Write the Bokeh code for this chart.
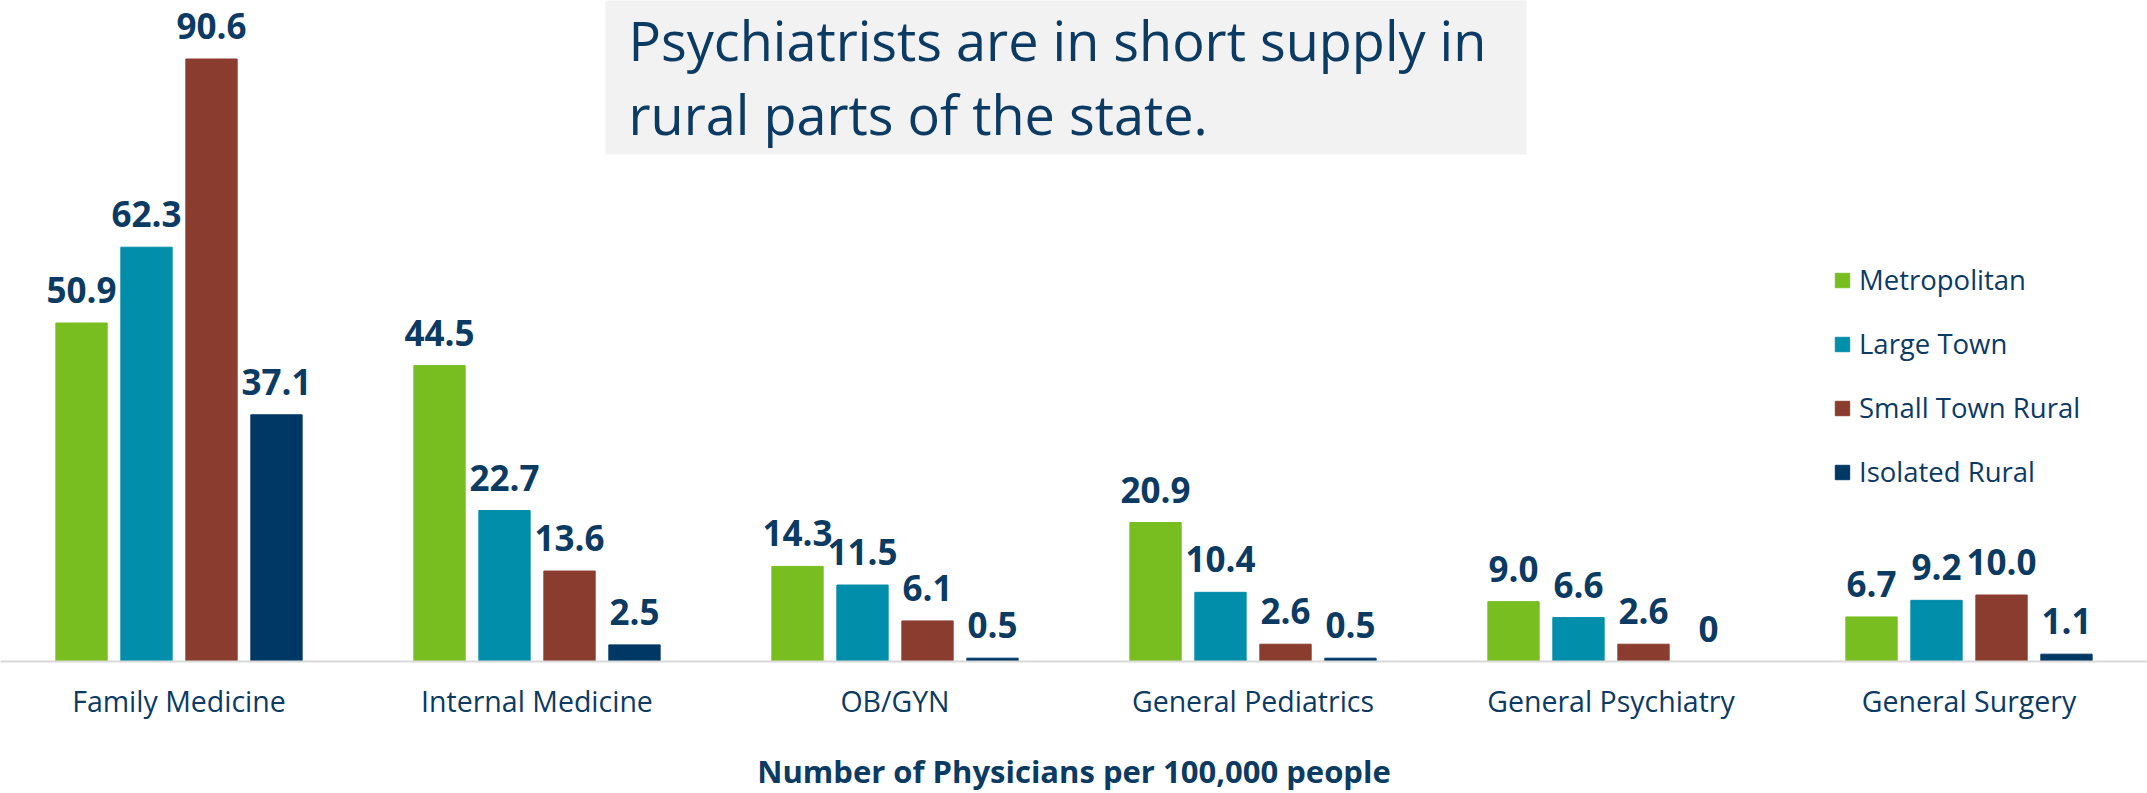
import numpy as np
from bokeh.plotting import figure
from bokeh.models import ColumnDataSource, Range1d, FixedTicker, BoxAnnotation, Label
from bokeh.core.properties import value
from bokeh.embed import file_html
from bokeh.resources import INLINE

# ---- data ----
categories = ["Family Medicine", "Internal Medicine", "OB/GYN",
              "General Pediatrics", "General Psychiatry", "General Surgery"]
series_names = ["Metropolitan", "Large Town", "Small Town Rural", "Isolated Rural"]
metropolitan = [50.9, 44.5, 14.3, 20.9, 9.0, 6.7]
large_town = [62.3, 22.7, 11.5, 10.4, 6.6, 9.2]
small_town_rural = [90.6, 13.6, 6.1, 2.6, 2.6, 10.0]
isolated_rural = [37.1, 2.5, 0.5, 0.5, 0.0, 1.1]
x_axis_title = "Number of Physicians per 100,000 people"
headline = ["Psychiatrists are in short supply in", "rural parts of the state."]

# ---- style ----
colors = ["#78BE20", "#008EAA", "#8A3D2E", "#003865"]
text_color = "#0B3A63"
FONT = "Open Sans"

PX_PER_CAT = 358.0
PX_PER_UNIT = 6.65
FRAME_W = 2147
FRAME_H = 661
x0 = -178.5 / PX_PER_CAT
x1 = x0 + FRAME_W / PX_PER_CAT
y1 = FRAME_H / PX_PER_UNIT

p = figure(frame_width=FRAME_W, frame_height=FRAME_H, output_backend="svg",
           toolbar_location=None, x_range=Range1d(x0, x1), y_range=Range1d(0, y1),
           y_axis_location=None, min_border=0, min_border_left=0, min_border_right=0,
           min_border_top=0, min_border_bottom=0, background_fill_color="white",
           border_fill_color="white")
p.outline_line_color = None
p.grid.visible = False

offsets = [-0.2723, -0.0908, 0.0908, 0.2723]
bar_w = 51.3 / PX_PER_CAT
idx = np.arange(len(categories))
all_series = [metropolitan, large_town, small_town_rural, isolated_rural]

for name, vals, off, col in zip(series_names, all_series, offsets, colors):
    labels = ["0" if v == 0 else f"{v:.1f}" for v in vals]
    src = ColumnDataSource(dict(x=idx + off, top=vals, label=labels))
    p.vbar(x="x", top="top", bottom=0, width=bar_w, source=src,
           fill_color=col, line_color=col, line_width=1, legend_label=name)
    p.text(x="x", y="top", text="label", source=src, y_offset=-33,
           text_align="center", text_baseline="alphabetic",
           text_font=value(FONT), text_font_style="bold",
           text_font_size="35px", text_color=text_color)

# headline box
box = BoxAnnotation(left=x0 + 605 / PX_PER_CAT, right=x0 + 1526 / PX_PER_CAT,
                    bottom=(FRAME_H - 154) / PX_PER_UNIT, top=y1 + 5,
                    fill_color="#F2F2F2", fill_alpha=1.0, line_color=None, level="underlay")
p.add_layout(box)
for line, py in zip(headline, [39, 113]):
    p.add_layout(Label(x=x0 + 628 / PX_PER_CAT, y=(FRAME_H - py) / PX_PER_UNIT, text=line,
                       text_font=FONT, text_font_size="54px", text_color=text_color,
                       text_baseline="alphabetic", text_align="left"))

# x axis
ax = p.xaxis[0]
ax.ticker = FixedTicker(ticks=list(idx))
ax.major_label_overrides = {int(i): c for i, c in zip(idx, categories)}
ax.major_tick_line_color = None
ax.minor_tick_line_color = None
ax.major_tick_out = 0
ax.major_label_standoff = 20
ax.axis_line_color = "#D9D9D9"
ax.axis_line_width = 2
ax.major_label_text_font = FONT
ax.major_label_text_font_size = "28.5px"
ax.major_label_text_color = text_color
ax.axis_label = x_axis_title
ax.axis_label_text_font = FONT
ax.axis_label_text_font_style = "bold"
ax.axis_label_text_font_size = "31px"
ax.axis_label_text_color = text_color
ax.axis_label_standoff = 27

# legend
lg = p.legend[0]
lg.location = (1833, 171)
lg.background_fill_alpha = 0
lg.border_line_color = None
lg.padding = 0
lg.margin = 0
lg.glyph_width = 18
lg.glyph_height = 18
lg.label_height = 36
lg.spacing = 27
lg.label_standoff = 8
lg.label_text_font = FONT
lg.label_text_font_size = "27.5px"
lg.label_text_color = text_color

open("out.html", "w").write(file_html(p, INLINE))
